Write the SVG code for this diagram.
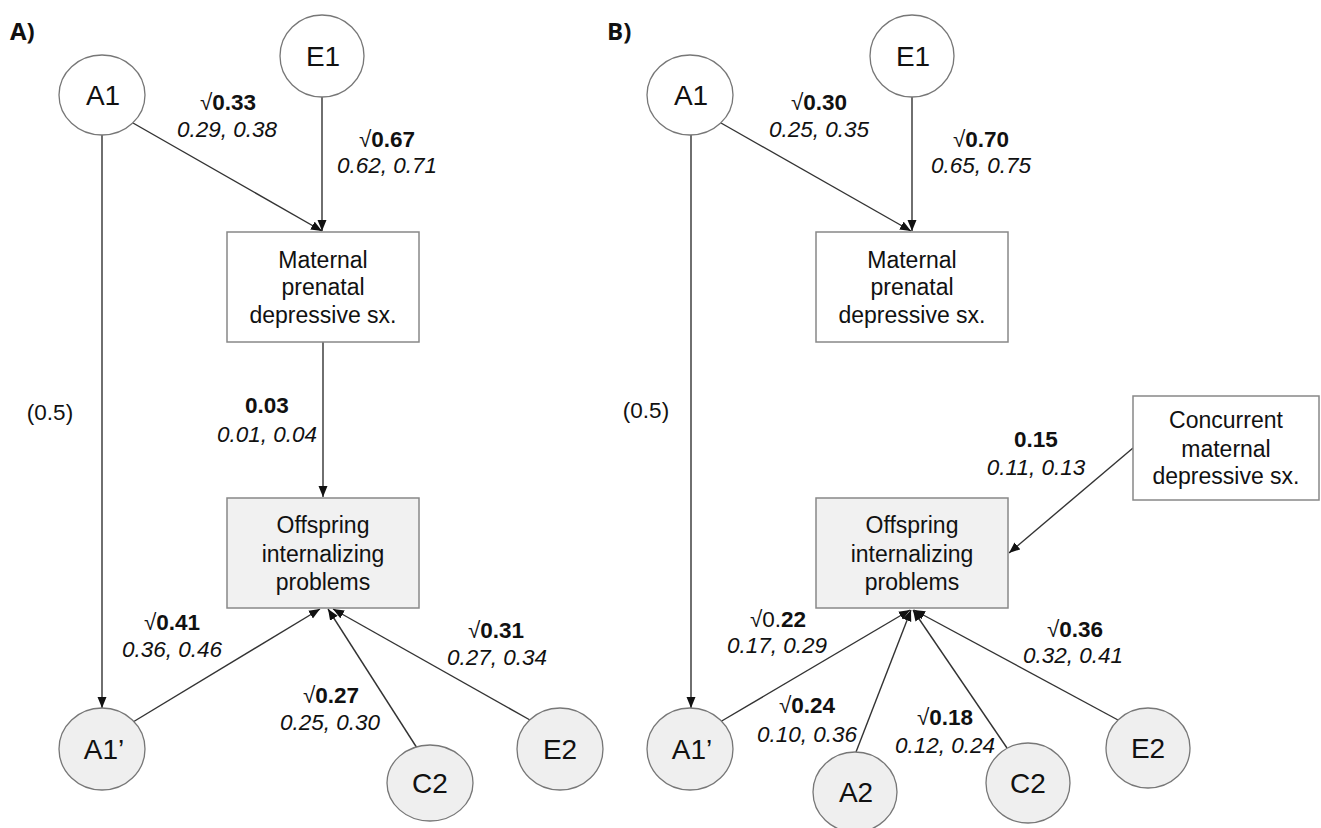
<svg xmlns="http://www.w3.org/2000/svg" width="1321" height="828" viewBox="0 0 1321 828">
<style>
text{font-family:"Liberation Sans",Arial,sans-serif;fill:#111}
.panel{font-family:"Open Sans","Liberation Sans",sans-serif;font-weight:bold;font-size:24px}
.node{font-size:23px;text-anchor:middle}
.cl{font-size:28px;text-anchor:middle}
.lab{font-size:22.5px;text-anchor:middle}
.b{font-weight:bold}
.i{font-style:italic}
.box{fill:#fff;stroke:#888;stroke-width:1.5}
.obox{fill:#f1f1f1;stroke:#888;stroke-width:1.5}
.c{fill:#fff;stroke:#777;stroke-width:1.3}
.cg{fill:#efefef;stroke:#777;stroke-width:1.3}
.e{stroke:#333;stroke-width:1.4;fill:none;marker-end:url(#ah)}
.n{stroke:#333;stroke-width:1.4;fill:none}
</style>
<defs>
<marker id="ah" markerUnits="userSpaceOnUse" markerWidth="12" markerHeight="10" refX="11" refY="5" orient="auto">
<path d="M0,0.5 L11,5 L0,9.5 z" fill="#111"/>
</marker>
</defs>
<rect width="1321" height="828" fill="#fff"/>
<text class="panel" x="10" y="40">A)</text>
<text class="panel" x="607" y="40">B)</text>

<g id="connectors">
<line class="e" x1="133" y1="123" x2="322" y2="231"/>
<line class="e" x1="322" y1="97" x2="322" y2="231"/>
<line class="e" x1="323" y1="342" x2="323" y2="497"/>
<line class="e" x1="102" y1="135" x2="102" y2="708"/>
<line class="e" x1="133" y1="722" x2="320" y2="609"/>
<line class="e" x1="417" y1="748" x2="328" y2="609"/>
<line class="e" x1="530" y1="720" x2="333" y2="609"/>
<line class="e" x1="721" y1="123" x2="911" y2="231"/>
<line class="e" x1="912" y1="97" x2="912" y2="231"/>
<line class="e" x1="691" y1="135" x2="691" y2="708"/>
<line class="e" x1="1133" y1="448" x2="1009" y2="553"/>
<line class="e" x1="720" y1="722" x2="910" y2="610"/>
<line class="e" x1="856" y1="752" x2="911" y2="610"/>
<line class="e" x1="1007" y1="748" x2="913" y2="610"/>
<line class="e" x1="1118" y1="720" x2="914" y2="610"/>
</g>

<g id="labels">
<text class="lab" x="228" y="110">√<tspan class="b">0.33</tspan></text>
<text class="lab i" x="227" y="137">0.29, 0.38</text>
<text class="lab" x="387" y="147">√<tspan class="b">0.67</tspan></text>
<text class="lab i" x="387" y="173">0.62, 0.71</text>
<text class="lab b" x="267" y="413">0.03</text>
<text class="lab i" x="267" y="442">0.01, 0.04</text>
<text class="lab" x="50" y="420">(0.5)</text>
<text class="lab" x="172" y="630">√<tspan class="b">0.41</tspan></text>
<text class="lab i" x="172" y="657">0.36, 0.46</text>
<text class="lab" x="331" y="703">√<tspan class="b">0.27</tspan></text>
<text class="lab i" x="330" y="730">0.25, 0.30</text>
<text class="lab" x="496" y="638">√<tspan class="b">0.31</tspan></text>
<text class="lab i" x="497" y="665">0.27, 0.34</text>

<text class="lab" x="819" y="110">√<tspan class="b">0.30</tspan></text>
<text class="lab i" x="819" y="137">0.25, 0.35</text>
<text class="lab" x="981" y="147">√<tspan class="b">0.70</tspan></text>
<text class="lab i" x="981" y="173">0.65, 0.75</text>
<text class="lab" x="646" y="418">(0.5)</text>
<text class="lab b" x="1036" y="447">0.15</text>
<text class="lab i" x="1036" y="475">0.11, 0.13</text>
<text class="lab" x="778" y="627">√0.<tspan class="b">22</tspan></text>
<text class="lab i" x="777" y="653">0.17, 0.29</text>
<text class="lab" x="807" y="713">√<tspan class="b">0.24</tspan></text>
<text class="lab i" x="807" y="742">0.10, 0.36</text>
<text class="lab" x="945" y="725">√<tspan class="b">0.18</tspan></text>
<text class="lab i" x="945" y="753">0.12, 0.24</text>
<text class="lab" x="1075" y="637">√<tspan class="b">0.36</tspan></text>
<text class="lab i" x="1073" y="663">0.32, 0.41</text>
</g>

<g id="A_A1"><ellipse class="c" cx="102" cy="95" rx="43" ry="40"/><text class="cl" x="103" y="105">A1</text></g>
<g id="A_E1"><ellipse class="c" cx="322" cy="56" rx="42" ry="41"/><text class="cl" x="323" y="66">E1</text></g>
<g id="A_maternal"><rect class="box" x="227" y="232" width="192" height="110"/>
<text class="node" x="323" y="268">Maternal</text><text class="node" x="323" y="295">prenatal</text><text class="node" x="323" y="323">depressive sx.</text></g>
<g id="A_offspring"><rect class="obox" x="227" y="498" width="192" height="110"/>
<text class="node" x="323" y="533">Offspring</text><text class="node" x="323" y="562">internalizing</text><text class="node" x="323" y="590">problems</text></g>
<g id="A_A1p"><ellipse class="cg" cx="102" cy="749" rx="43" ry="41"/><text class="cl" x="104" y="759">A1’</text></g>
<g id="A_C2"><ellipse class="cg" cx="430" cy="783" rx="43" ry="38"/><text class="cl" x="430" y="793">C2</text></g>
<g id="A_E2"><ellipse class="cg" cx="560" cy="749" rx="43" ry="41"/><text class="cl" x="560" y="759">E2</text></g>

<g id="B_A1"><ellipse class="c" cx="690" cy="95" rx="43" ry="40"/><text class="cl" x="691" y="105">A1</text></g>
<g id="B_E1"><ellipse class="c" cx="912" cy="56" rx="42" ry="41"/><text class="cl" x="913" y="66">E1</text></g>
<g id="B_maternal"><rect class="box" x="816" y="232" width="192" height="110"/>
<text class="node" x="912" y="268">Maternal</text><text class="node" x="912" y="295">prenatal</text><text class="node" x="912" y="323">depressive sx.</text></g>
<g id="B_offspring"><rect class="obox" x="816" y="498" width="192" height="110"/>
<text class="node" x="912" y="533">Offspring</text><text class="node" x="912" y="562">internalizing</text><text class="node" x="912" y="590">problems</text></g>
<g id="B_concurrent"><rect class="box" x="1133" y="396" width="186" height="104"/>
<text class="node" x="1226" y="428">Concurrent</text><text class="node" x="1226" y="457">maternal</text><text class="node" x="1226" y="484">depressive sx.</text></g>
<g id="B_A1p"><ellipse class="cg" cx="690" cy="749" rx="43" ry="41"/><text class="cl" x="692" y="759">A1’</text></g>
<g id="B_A2"><ellipse class="cg" cx="855" cy="792" rx="42" ry="40"/><text class="cl" x="856" y="802">A2</text></g>
<g id="B_C2"><ellipse class="cg" cx="1028" cy="783" rx="42" ry="40"/><text class="cl" x="1028" y="793">C2</text></g>
<g id="B_E2"><ellipse class="cg" cx="1148" cy="748" rx="42" ry="40"/><text class="cl" x="1148" y="758">E2</text></g>
</svg>
